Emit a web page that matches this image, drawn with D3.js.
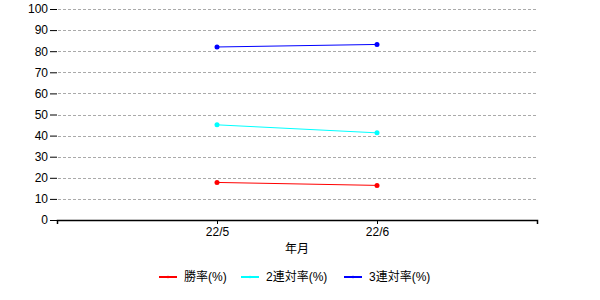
<!DOCTYPE html>
<html>
<head>
<meta charset="utf-8">
<script src="https://cdn.jsdelivr.net/npm/d3@7"></script>
<style>
  body { margin: 0; background: #fff; }
  text { font-family: Arial, "Liberation Sans", "Noto Sans CJK JP", sans-serif; font-size: 12px; fill: #000; }
</style>
</head>
<body>
<svg id="chart" width="600" height="300"></svg>
<script>
// Data
const months = ['22/5', '22/6']
const winRate = [17.8, 16.4]
const quinellaRate = [45.1, 41.3]
const trioRate = [82.0, 83.2]
const yTicks = [0, 10, 20, 30, 40, 50, 60, 70, 80, 90, 100]

const series = [
  { name: '勝率(%)', values: winRate, color: '#ff0000' },
  { name: '2連対率(%)', values: quinellaRate, color: '#00ffff' },
  { name: '3連対率(%)', values: trioRate, color: '#0000ff' }
]

const svg = d3.select('#chart')
const plot = { left: 57, right: 537, top: 9, bottom: 220 }

// x: categories sit at 1 and 2 of a 0..3 range
let x = d3.scaleLinear()
    .domain([0, months.length + 1])
    .range([plot.left, plot.right])

let y = d3.scaleLinear()
    .domain([0, 100])
    .range([plot.bottom, plot.top])

// Grid
svg.append('g')
  .selectAll('line')
  .data(yTicks.filter(d => d > 0))
  .join('line')
    .attr('x1', plot.left + 1)
    .attr('x2', plot.right)
    .attr('y1', d => Math.round(y(d)) + 0.5)
    .attr('y2', d => Math.round(y(d)) + 0.5)
    .attr('stroke', '#aaa')
    .attr('stroke-dasharray', '3,2')

// Y axis (ticks only, no spine)
let yAxis = svg.append('g')
    .attr('transform', 'translate(' + plot.left + ',0)')
    .call(d3.axisLeft(y).tickValues(yTicks).tickSize(7).tickPadding(2))
yAxis.select('.domain').remove()
yAxis.selectAll('.tick line').attr('stroke', '#000')

// X axis
let xAxis = svg.append('g')
    .attr('transform', 'translate(0,' + plot.bottom + ')')
    .call(d3.axisBottom(x)
      .tickValues(d3.range(0, months.length + 2))
      .tickFormat(i => months[i - 1] || '')
      .tickSizeOuter(0)
      .tickSize(4)
      .tickPadding(3))
xAxis.select('.domain').attr('stroke-width', 1.5)

svg.append('text')
  .attr('x', (plot.left + plot.right) / 2)
  .attr('y', 253)
  .attr('text-anchor', 'middle')
  .text('年月')

// Lines
let line = d3.line()
    .x((d, i) => x(i + 1))
    .y(d => y(d))

series.forEach(s => {
  svg.append('path')
    .datum(s.values)
    .attr('d', line)
    .attr('fill', 'none')
    .attr('stroke', s.color)
    .attr('stroke-width', 1)

  svg.append('g')
    .selectAll('circle')
    .data(s.values)
    .join('circle')
      .attr('cx', (d, i) => x(i + 1))
      .attr('cy', d => y(d))
      .attr('r', 2.5)
      .attr('fill', s.color)
})

// Legend
let legendX = [159, 241, 344]
let legend = svg.append('g')
series.forEach((s, i) => {
  let g = legend.append('g')
      .attr('transform', 'translate(' + legendX[i] + ',277)')
  g.append('line')
    .attr('x1', 0).attr('x2', 18)
    .attr('stroke', s.color)
    .attr('stroke-width', 2)
  g.append('circle')
    .attr('cx', 9).attr('r', 1.2)
    .attr('fill', s.color)
  g.append('text')
    .attr('x', 25)
    .attr('dy', '0.35em')
    .text(s.name)
})
</script>
</body>
</html>
